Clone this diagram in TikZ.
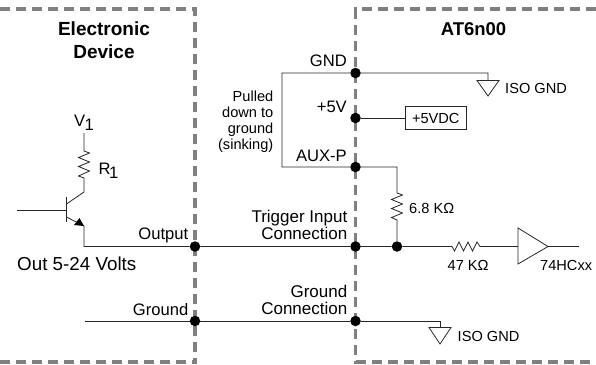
\documentclass[tikz,border=0pt]{standalone}
\usepackage{fontspec}
\setmainfont{Liberation Sans}
\tikzset{
  x=1pt,y=-1pt,
  boundary/.style={draw=black!50,line width=3.2pt,dash pattern=on 10pt off 6pt},
  wire/.style={draw=black!85,line width=0.8pt,line join=miter},
  junction/.style={circle,fill=black,inner sep=0pt,minimum size=10.5pt},
  lab/.style={inner sep=0pt,font=\fontsize{16.6}{17}\selectfont},
  small/.style={inner sep=0pt,font=\fontsize{14.6}{16}\selectfont},
  head/.style={inner sep=0pt,align=center,font=\fontsize{19}{23.5}\selectfont\bfseries},
  gndsym/.style={wire,fill=white},
}
\begin{document}
\begin{tikzpicture}
\useasboundingbox (0,0) rectangle (596,364);
% boundaries
\coordinate (bla) at (0,9); \coordinate (blb) at (195,9); \coordinate (blc) at (195,364);
\coordinate (bld) at (0,362); \coordinate (ble) at (195,362);
\coordinate (bra) at (596,9); \coordinate (brb) at (355.5,9); \coordinate (brc) at (355.5,364);
\coordinate (brd) at (355.5,362); \coordinate (bre) at (590,362);
\draw[boundary] (bla) -- (blb) -- (blc);
\draw[boundary] (bld) -- (ble);
\draw[boundary] (bra) -- (brb) -- (brc);
\draw[boundary] (brd) -- (bre);
% junctions
\node[junction] (jout) at (195,246.5) {};
\node[junction] (jtrig) at (355.5,246.5) {};
\node[junction] (jres) at (397,246.5) {};
\node[junction] (jgnd) at (355.5,73) {};
\node[junction] (j5v) at (355.5,118) {};
\node[junction] (jaux) at (355.5,167) {};
\node[junction] (jg1) at (195,321) {};
\node[junction] (jg2) at (355.5,321) {};
% free coordinates
\coordinate (bin) at (17,210);
\coordinate (bb) at (66.5,210);
\coordinate (bart) at (66.5,197);
\coordinate (barb) at (66.5,222);
\coordinate (cola) at (66.5,204);
\coordinate (colb) at (84,192);
\coordinate (ema) at (66.5,217);
\coordinate (emb) at (84,226);
\coordinate (outc) at (84,246.5);
\coordinate (vt) at (84,133);
\coordinate (glft) at (85,321);
\coordinate (gr1) at (488,73);
\coordinate (gr2) at (440,321);
\coordinate (pl1) at (282,73);
\coordinate (pl2) at (282,167);
\coordinate (aux) at (397,167);
\node[draw=black!85,line width=0.8pt,minimum width=60.5pt,minimum height=23pt,inner sep=0pt,font=\fontsize{14.6}{16}\selectfont] (vdc) at (435.75,118) {+5VDC};
% transistor
\draw[wire] (bin) -- (bb);
\draw[wire] (bart) -- (barb);
\draw[wire] (cola) -- (colb) -- (84,178)
  -- (78.5,176) -- (89.5,171) -- (78.5,166.5) -- (89.5,162) -- (78.5,157.5) -- (89.5,153) -- (84,151) -- (vt);
\draw[wire] (ema) -- (emb) -- (outc) -- (jout);
\fill[black] (84,226) -- (74,225) -- (79.5,218) -- cycle;
% main lines
\draw[wire] (jout) -- (jtrig) -- (jres) -- (452,246.5)
  -- (454.5,251) -- (459,242) -- (463.5,251) -- (468,242) -- (472.5,251) -- (477,242) -- (480,246.5) -- (518,246.5);
\draw[wire] (jres) -- (397,220) -- (391.5,217.5) -- (402.5,213) -- (391.5,208.5) -- (402.5,204) -- (391.5,199.5) -- (402.5,195) -- (397,193) -- (aux) -- (jaux) -- (pl2) -- (pl1) -- (jgnd) -- (gr1) -- (488,80);
\draw[wire] (j5v) -- (vdc.west);
\draw[wire] (glft) -- (jg1) -- (jg2) -- (gr2) -- (440,327);
% ground symbols and buffer
\draw[gndsym] (477,80.5) -- (499,80.5) -- (488,96) -- cycle;
\draw[gndsym] (429,327.5) -- (451,327.5) -- (440,344) -- cycle;
\draw[gndsym] (518,228) -- (548,246.5) -- (518,264) -- cycle;
\draw[wire] (548,246.5) -- (578.5,246.5);
% texts
\node[head] (t1) at (104,40) {Electronic\\Device};
\node[head,font=\fontsize{18.5}{21}\selectfont\bfseries] (t2) at (473.5,29) {AT6n00};
\node[lab,anchor=base west] (tv) at (74,126) {V};
\node[lab,anchor=base west] (tv1) at (84.5,130) {1};
\node[lab,anchor=base west] (tr) at (98.5,174) {R};
\node[lab,anchor=base west] (tr1) at (109,178) {1};
\node[lab,anchor=base east] (toutp) at (188.5,239) {Output};
\node[lab,anchor=base west,font=\fontsize{18.8}{21}\selectfont] (tvolts) at (17,270) {Out 5-24 Volts};
\node[lab,anchor=base east] (tg) at (188.5,315) {Ground};
\node[lab,anchor=base east] (tgnd) at (347,66) {GND};
\node[lab,anchor=base east] (t5v) at (347,112) {+5V};
\node[lab,anchor=base east] (taux) at (347,161) {AUX-P};
\node[small,align=right,anchor=east] (tpull) at (273.5,122) {Pulled\\down to\\ground\\(sinking)};
\node[lab,align=right,anchor=east,font=\fontsize{17}{17}\selectfont] (ttrig) at (347.5,225) {Trigger Input\\Connection};
\node[lab,align=right,anchor=east,font=\fontsize{17}{17}\selectfont] (tgc) at (347.5,300) {Ground\\Connection};
\node[small,anchor=base west] (tiso1) at (505,93) {ISO GND};
\node[small,anchor=base west] (tiso2) at (457.5,341) {ISO GND};
\node[small,anchor=base west] (t68) at (409,213) {6.8 KΩ};
\node[small,anchor=base west] (t47) at (447.5,270) {47 KΩ};
\node[small,anchor=base west] (t74) at (540,270) {74HCxx};
\end{tikzpicture}
\end{document}
